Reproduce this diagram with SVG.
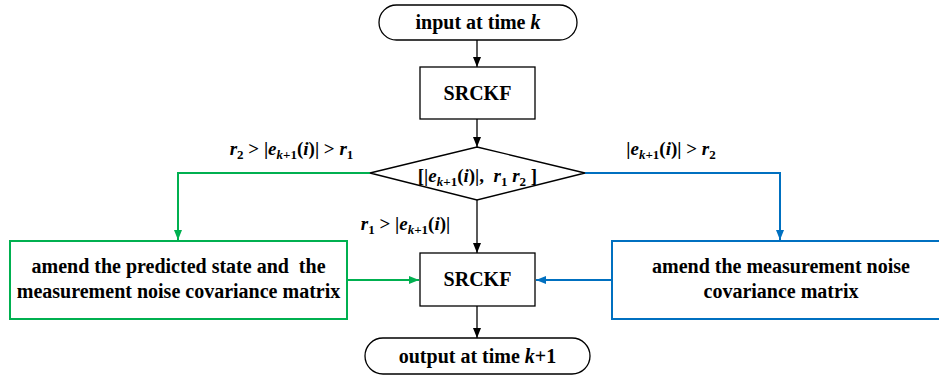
<svg xmlns="http://www.w3.org/2000/svg" width="939" height="377" viewBox="0 0 939 377">
<style>
text{font-family:'Liberation Serif','DejaVu Serif',serif;font-weight:bold;fill:#000}
.t{font-size:20px;text-anchor:middle}
.l{font-size:19px;text-anchor:middle}
.i{font-style:italic}
.s{font-size:13px}
.node{fill:#fff;stroke:#000;stroke-width:1.3}
.g{fill:#fff;stroke:#00b050;stroke-width:2}
.b{fill:#fff;stroke:#0070c0;stroke-width:2}
.ck{fill:none;stroke:#000;stroke-width:1.3}
.cg{fill:none;stroke:#00b050;stroke-width:2}
.cb{fill:none;stroke:#0070c0;stroke-width:2}
</style>
<defs>
<marker id="ak" markerWidth="10" markerHeight="8" refX="10" refY="4" orient="auto" markerUnits="userSpaceOnUse"><path d="M0,0L10,4L0,8z" fill="#000"/></marker>
<marker id="ag" markerWidth="10" markerHeight="8" refX="10" refY="4" orient="auto" markerUnits="userSpaceOnUse"><path d="M0,0L10,4L0,8z" fill="#00b050"/></marker>
<marker id="ab" markerWidth="10" markerHeight="8" refX="10" refY="4" orient="auto" markerUnits="userSpaceOnUse"><path d="M0,0L10,4L0,8z" fill="#0070c0"/></marker>
</defs>
<g id="connectors">
<path class="ck" d="M477,40V67" marker-end="url(#ak)"/>
<path class="ck" d="M477,119V147" marker-end="url(#ak)"/>
<path class="ck" d="M477,200V253" marker-end="url(#ak)"/>
<path class="ck" d="M477,306V338" marker-end="url(#ak)"/>
<path class="cg" d="M370,173H178V240" marker-end="url(#ag)"/>
<path class="cb" d="M585,173H780V240" marker-end="url(#ab)"/>
<path class="cg" d="M347,280H419" marker-end="url(#ag)"/>
<path class="cb" d="M612,280H536" marker-end="url(#ab)"/>
</g>
<g id="start">
<rect class="node" x="379" y="5" width="198" height="35" rx="17.5"/>
<text class="t" x="478" y="29" font-family="Liberation Serif">input at time <tspan class="i">k</tspan></text>
</g>
<g id="srckf1">
<rect class="node" x="420" y="67" width="115" height="52"/>
<text class="t" x="477.5" y="100">SRCKF</text>
</g>
<g id="decision">
<path class="node" d="M477,147L585,173L477,200L370,173z"/>
<text class="l" x="477.5" y="182" xml:space="preserve">[|<tspan class="i">e</tspan><tspan class="s" dy="4"><tspan class="i">k</tspan>+1</tspan><tspan dy="-4">(</tspan><tspan class="i">i</tspan>)|,  <tspan class="i">r</tspan><tspan class="s" dy="4">1</tspan><tspan dy="-4"> </tspan><tspan class="i">r</tspan><tspan class="s" dy="4">2</tspan><tspan dy="-4"> ]</tspan></text>
</g>
<g id="labels">
<text class="l" x="291.5" y="155"><tspan class="i">r</tspan><tspan class="s" dy="4">2</tspan><tspan dy="-4"> &gt; |</tspan><tspan class="i">e</tspan><tspan class="s" dy="4"><tspan class="i">k</tspan>+1</tspan><tspan dy="-4">(</tspan><tspan class="i">i</tspan>)| &gt; <tspan class="i">r</tspan><tspan class="s" dy="4">1</tspan></text>
<text class="l" x="671" y="155">|<tspan class="i">e</tspan><tspan class="s" dy="4"><tspan class="i">k</tspan>+1</tspan><tspan dy="-4">(</tspan><tspan class="i">i</tspan>)| &gt; <tspan class="i">r</tspan><tspan class="s" dy="4">2</tspan></text>
<text class="l" x="405.5" y="230"><tspan class="i">r</tspan><tspan class="s" dy="4">1</tspan><tspan dy="-4"> &gt; |</tspan><tspan class="i">e</tspan><tspan class="s" dy="4"><tspan class="i">k</tspan>+1</tspan><tspan dy="-4">(</tspan><tspan class="i">i</tspan>)|</text>
</g>
<g id="amend-left">
<rect class="g" x="10" y="241" width="337" height="78"/>
<text class="t" x="178.5" y="273" xml:space="preserve">amend the predicted state and  the</text>
<text class="t" x="178.5" y="298">measurement noise covariance matrix</text>
</g>
<g id="srckf2">
<rect class="node" x="420" y="253" width="115" height="53"/>
<text class="t" x="477.5" y="286">SRCKF</text>
</g>
<g id="amend-right">
<rect class="b" x="612" y="241" width="340" height="78"/>
<text class="t" x="781" y="273">amend the measurement noise</text>
<text class="t" x="781" y="298">covariance matrix</text>
</g>
<g id="end">
<rect class="node" x="365" y="338" width="225" height="36" rx="18"/>
<text class="t" x="477.5" y="363">output at time <tspan class="i">k</tspan>+1</text>
</g>
</svg>
